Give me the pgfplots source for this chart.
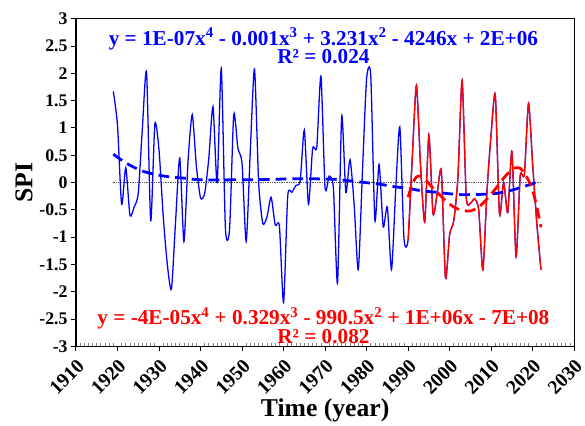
\documentclass[border=0pt]{standalone}
\usepackage{fontspec}
\setmainfont{Liberation Serif}
\usepackage{pgfplots}
\pgfplotsset{compat=1.18}
\begin{document}
\begin{tikzpicture}
\begin{axis}[
  scale only axis, width=505pt, height=332pt,
  xmin=1910, xmax=2030, ymin=-3, ymax=3,
  xtick={1910,1920,...,2030}, ytick={-3,-2.5,...,3},
  minor x tick num=9,
  xtick pos=bottom, ytick pos=left,
  tick align=outside,
  major tick length=5pt, minor tick length=3pt,
  minor x tick style={yshift=3pt, line width=0.8pt},
  major tick style={line width=1pt, black},
  axis line style={line width=1.3pt, black},
  /pgf/number format/assume math mode=true,
  /pgf/number format/1000 sep={},
  yticklabel style={/pgf/number format/fixed, /pgf/number format/precision=1,
     font=\bfseries\fontsize{18}{18}\selectfont},
  xticklabel style={rotate=45, anchor=north east, inner sep=1pt,
     font=\bfseries\fontsize{20}{20}\selectfont},
  xticklabel shift=5pt,
  xlabel={Time (year)}, ylabel={SPI},
  label style={font=\bfseries\fontsize{26}{26}\selectfont},
  xlabel style={at={(axis description cs:0.5,0)}, anchor=center, yshift=-65pt},
  clip=false,
]
\coordinate (BL) at (rel axis cs:0,0);
% zero line
\addplot[gray!70!black, line width=1.4pt, densely dotted] coordinates {(1919,0) (2022,0)};
% blue SPI series
\addplot[blue, line width=1.3pt, smooth, tension=0.4] coordinates {
(1919,1.67) (1920,1.05) (1921,-0.40) (1922,0.27) (1923,-0.60) (1924,-0.45) (1925,-0.20) (1926,1.00) (1927,2.02) (1928,-0.70)
(1929,1.07) (1930,0.60) (1931,-0.60) (1932,-1.50) (1933,-1.95) (1934,-0.70) (1935,0.45) (1936,-1.08) (1937,0.40) (1938,1.24)
(1939,0.30) (1940,-0.28) (1941,-0.20) (1942,0.45) (1943,1.39) (1944,0.00) (1945,2.09) (1946,-0.85) (1947,-0.85) (1948,1.24)
(1949,0.63) (1950,0.35) (1951,-1.08) (1952,0.60) (1953,2.08) (1954,0.00) (1955,-0.75) (1956,-0.63) (1957,-0.27) (1958,-0.78)
(1959,-0.80) (1960,-2.20) (1961,-0.25) (1962,-0.18) (1963,-0.05) (1964,0.03) (1965,0.96) (1966,-0.40) (1967,0.62) (1968,0.65)
(1969,1.95) (1970,-0.10) (1971,0.12) (1972,-0.10) (1973,-1.84) (1974,1.21) (1975,-0.18) (1976,0.42) (1977,-0.40) (1978,-1.60)
(1979,0.20) (1980,1.90) (1981,1.96) (1982,-0.69) (1983,0.33) (1984,-0.81) (1985,-0.45) (1986,-1.60) (1987,-0.15) (1988,1.02)
(1989,-1.02) (1990,-1.05) (1991,0.45) (1992,1.78) (1993,0.30) (1994,-0.72) (1995,0.87) (1996,-0.57) (1997,-0.20) (1998,0.21)
(1999,-1.75) (2000,-0.95) (2001,-0.70) (2002,0.10) (2003,1.87) (2004,-0.27) (2005,-0.38) (2006,-0.30) (2007,-0.50) (2008,-1.60)
(2009,-0.15) (2010,0.90) (2011,1.60) (2012,-0.57) (2013,0.00) (2014,-0.55) (2015,0.57) (2016,-1.36) (2017,0.12) (2018,0.15)
(2019,1.45) (2020,0.33) (2021,-0.75) (2022,-1.60)
};
% red SPI series (1990 onwards)
\addplot[red, line width=1.3pt, smooth, tension=0.4] coordinates {
(1990,-1.05) (1991,0.45) (1992,1.78) (1993,0.30) (1994,-0.72) (1995,0.87) (1996,-0.57) (1997,-0.20) (1998,0.21)
(1999,-1.75) (2000,-0.95) (2001,-0.70) (2002,0.10) (2003,1.87) (2004,-0.27) (2005,-0.38) (2006,-0.30) (2007,-0.50) (2008,-1.60)
(2009,-0.15) (2010,0.90) (2011,1.60) (2012,-0.57) (2013,0.00) (2014,-0.55) (2015,0.57) (2016,-1.36) (2017,0.12) (2018,0.15)
(2019,1.45) (2020,0.33) (2021,-0.75) (2022,-1.60)
};
% blue trend
\addplot[blue, line width=2.8pt, dash pattern=on 11pt off 6pt, smooth] coordinates {
(1919,0.52) (1922,0.36) (1926,0.21) (1931,0.12) (1936,0.08) (1940,0.05) (1950,0.05) (1958,0.06) (1964,0.07) (1972,0.06)
(1976,0.03) (1983,-0.03) (1987,-0.08) (1991,-0.12) (1993,-0.15) (1997,-0.18) (2002,-0.22) (2006,-0.22) (2010,-0.21)
(2012,-0.19) (2015,-0.14) (2018,-0.07) (2020,-0.02) (2022,0.03)
};
% red trend
\addplot[red, line width=2.8pt, dash pattern=on 11pt off 6pt, smooth] coordinates {
(1990,-0.27) (1991,-0.03) (1992,0.10) (1993,0.12) (1994,0.07) (1995,-0.02) (1997,-0.18) (1999,-0.33) (2001,-0.45)
(2003,-0.51) (2005,-0.52) (2007,-0.45) (2009,-0.30) (2011,-0.12) (2013,0.08) (2015,0.24) (2016,0.27) (2017,0.26)
(2018,0.17) (2019,0.04) (2020,-0.15) (2021,-0.45) (2022,-0.82)
};
\node[blue, font=\bfseries\fontsize{21.5}{21.5}\selectfont] at (axis cs:1969.6,2.63)
  {y = 1E-07x\textsuperscript{4} - 0.001x\textsuperscript{3} + 3.231x\textsuperscript{2} - 4246x + 2E+06};
\node[blue, font=\bfseries\fontsize{21.5}{21.5}\selectfont] at (axis cs:1969.6,2.31) {R² = 0.024};
\node[red, font=\bfseries\fontsize{21.5}{21.5}\selectfont] at (axis cs:1969.6,-2.49)
  {y = -4E-05x\textsuperscript{4} + 0.329x\textsuperscript{3} - 990.5x\textsuperscript{2} + 1E+06x - 7E+08};
\node[red, font=\bfseries\fontsize{21.5}{21.5}\selectfont] at (axis cs:1969.6,-2.83) {R² = 0.082};
\end{axis}
\path (BL) ++(-77pt,-78pt) rectangle ++(585pt,429pt);
\end{tikzpicture}
\end{document}
